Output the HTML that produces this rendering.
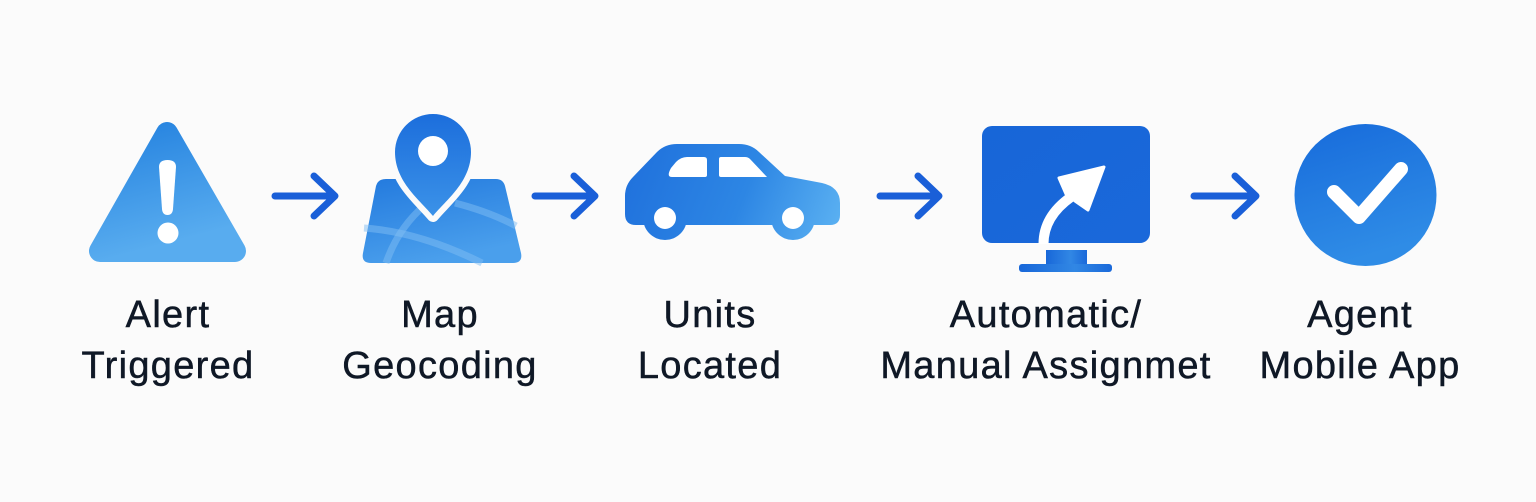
<!DOCTYPE html>
<html>
<head>
<meta charset="utf-8">
<style>
  html,body{margin:0;padding:0;}
  body{width:1536px;height:502px;background:#fbfbfb;position:relative;overflow:hidden;
    font-family:"Liberation Sans",Arial,sans-serif;}
  svg{position:absolute;left:0;top:0;}
  .lbl{position:absolute;top:290px;width:400px;text-align:center;font-size:38px;line-height:51px;
    color:#0f1826;letter-spacing:1.3px;white-space:nowrap;-webkit-text-stroke:0.5px #0f1826;}
</style>
</head>
<body>
<svg width="1536" height="502" viewBox="0 0 1536 502" xmlns="http://www.w3.org/2000/svg">
  <defs>
    <linearGradient id="gTri" x1="0" y1="0" x2="0.3" y2="1">
      <stop offset="0" stop-color="#2784e0"/>
      <stop offset="1" stop-color="#58acef"/>
    </linearGradient>
    <linearGradient id="gMap" x1="0" y1="0" x2="0.4" y2="1">
      <stop offset="0" stop-color="#237ade"/>
      <stop offset="1" stop-color="#4a9fec"/>
    </linearGradient>
    <linearGradient id="gPin" x1="0" y1="0" x2="0" y2="1">
      <stop offset="0" stop-color="#1c6edc"/>
      <stop offset="1" stop-color="#3b92e8"/>
    </linearGradient>
    <linearGradient id="gCar" gradientUnits="userSpaceOnUse" x1="625" y1="150" x2="840" y2="235">
      <stop offset="0" stop-color="#1f70dc"/>
      <stop offset="0.55" stop-color="#2d86e4"/>
      <stop offset="1" stop-color="#5cb2f2"/>
    </linearGradient>
    <linearGradient id="gMon" x1="0" y1="0" x2="1" y2="1">
      <stop offset="0" stop-color="#1766d8"/>
      <stop offset="1" stop-color="#1a68da"/>
    </linearGradient>
    <linearGradient id="gStand" x1="0" y1="0" x2="1" y2="0">
      <stop offset="0" stop-color="#1867d9"/>
      <stop offset="0.6" stop-color="#3187e4"/>
      <stop offset="1" stop-color="#1a69da"/>
    </linearGradient>
    <linearGradient id="gChk" x1="0" y1="0" x2="0.3" y2="1">
      <stop offset="0" stop-color="#176bdb"/>
      <stop offset="1" stop-color="#2f8ce6"/>
    </linearGradient>
  </defs>

  <!-- Alert triangle -->
  <polygon points="167,133 100,251 235,251" fill="url(#gTri)" stroke="url(#gTri)" stroke-width="22" stroke-linejoin="round"/>
  <path d="M159,167 Q159,160 167.5,160 Q176,160 176,167 L173,209 Q172.5,215 167.5,215 Q162.5,215 162,209 Z" fill="#fff"/>
  <circle cx="168" cy="233" r="10.5" fill="#fff"/>

  <!-- Arrow 1 -->
  <g stroke="#1a5fd8" stroke-width="7" stroke-linecap="round" stroke-linejoin="round" fill="none">
    <line x1="275" y1="196" x2="334" y2="196"/>
    <polyline points="314,176 335,196 314,216"/>
  </g>

  <!-- Map -->
  <path d="M386,179 L496,179 Q503,179 505,186 L521,253 Q523,263 513,263 L371,263 Q361,263 363,253 L376,186 Q378,179 386,179 Z" fill="url(#gMap)"/>
  <g stroke="#7fbdf4" stroke-opacity="0.5" stroke-width="7" fill="none">
    <path d="M364,228 Q420,232 482,263"/>
    <path d="M386,263 Q398,228 425,205"/>
    <path d="M455,203 Q490,212 516,226"/>
  </g>
  <path d="M433,216 C420,200 395,182 395,152 A38,38 0 1 1 471,152 C471,182 446,200 433,216 Z" fill="url(#gPin)" stroke="#fbfbfb" stroke-width="12" paint-order="stroke" stroke-linejoin="round"/>
  <circle cx="433" cy="151" r="15" fill="#fff"/>

  <!-- Arrow 2 -->
  <g stroke="#1a5fd8" stroke-width="7" stroke-linecap="round" stroke-linejoin="round" fill="none">
    <line x1="535" y1="196" x2="594" y2="196"/>
    <polyline points="574,176 595,196 574,216"/>
  </g>

  <!-- Car -->
  <g fill="url(#gCar)">
    <path d="M636,225 Q625,225 625,214 L625,196 Q625,185 633,177 L657,152 Q665,144 677,144 L739,144 Q751,144 759,152 L785,176 L822,183 Q840,187 840,203 L840,215 Q840,225 830,225 Z"/>
    <circle cx="665" cy="218" r="22"/>
    <circle cx="793" cy="218" r="22"/>
  </g>
  <circle cx="665" cy="218" r="11" fill="#fff"/>
  <circle cx="793" cy="218" r="11" fill="#fff"/>
  <path d="M672,177 L705,177 Q707,177 707,175 L707,160 Q707,157 704,157 L687,157 Q681,157 676,162 L671,168 Q666,177 672,177 Z" fill="#fff"/>
  <path d="M721,157 L745,157 Q748,157 750,159 L767,177 L721,177 Q719,177 719,175 L719,159 Q719,157 721,157 Z" fill="#fff"/>

  <!-- Arrow 3 -->
  <g stroke="#1a5fd8" stroke-width="7" stroke-linecap="round" stroke-linejoin="round" fill="none">
    <line x1="880" y1="196" x2="938" y2="196"/>
    <polyline points="918,176 939,196 918,216"/>
  </g>

  <!-- Monitor -->
  <rect x="982" y="126" width="168" height="117" rx="10" fill="url(#gMon)"/>
  <rect x="1046" y="250" width="41" height="17" fill="url(#gStand)"/>
  <rect x="1019" y="264" width="93" height="8" rx="3" fill="url(#gStand)"/>
  <path d="M1043.5,244 C1043.5,224 1054,209 1071,197" stroke="#fff" stroke-width="10" fill="none"/>
  <path d="M1104,167 L1059,178 L1066,194 L1075,201 L1088,210 Z" fill="#fff" stroke="#fff" stroke-width="3" stroke-linejoin="round"/>

  <!-- Arrow 4 -->
  <g stroke="#1a5fd8" stroke-width="7" stroke-linecap="round" stroke-linejoin="round" fill="none">
    <line x1="1194" y1="196" x2="1255" y2="196"/>
    <polyline points="1235,176 1256,196 1235,216"/>
  </g>

  <!-- Check circle -->
  <circle cx="1365.5" cy="195" r="71" fill="url(#gChk)"/>
  <polyline points="1334,192 1359,217 1401,169" stroke="#fff" stroke-width="14" stroke-linecap="round" stroke-linejoin="round" fill="none"/>
</svg>

<div class="lbl" style="left:-32px;">Alert<br>Triggered</div>
<div class="lbl" style="left:240px;">Map<br>Geocoding</div>
<div class="lbl" style="left:510px;">Units<br>Located</div>
<div class="lbl" style="left:846px;">Automatic/<br>Manual Assignmet</div>
<div class="lbl" style="left:1160px;">Agent<br>Mobile App</div>
</body>
</html>
